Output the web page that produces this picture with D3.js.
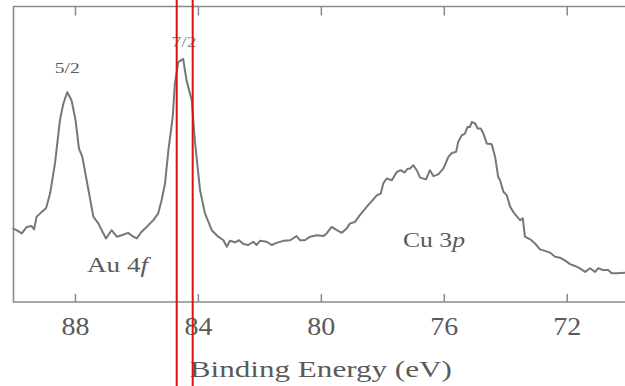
<!DOCTYPE html>
<html>
<head>
<meta charset="utf-8">
<script src="https://cdn.jsdelivr.net/npm/d3@7"></script>
<style>
  body { margin: 0; background: #fff; }
  svg { display: block; }
  .axis text { font-family: "Liberation Serif", serif; fill: #5a5a5a; }
</style>
</head>
<body>
<div id="chart"></div>
<script>
// binding energy (eV)
var energy = [90.03, 89.90, 89.73, 89.57, 89.41, 89.33, 89.25, 89.08, 88.94, 88.81,
  88.65, 88.49, 88.38, 88.25, 88.11, 87.98, 87.87, 87.76, 87.62, 87.40,
  87.24, 87.13, 86.99, 86.81, 86.64, 86.48, 86.27, 86.10, 85.99, 85.83,
  85.67, 85.45, 85.29, 85.18, 85.07, 84.96, 84.82, 84.75, 84.64, 84.48,
  84.37, 84.20, 84.10, 83.93, 83.77, 83.55, 83.34, 83.17, 83.06, 82.96,
  82.79, 82.66, 82.52, 82.36, 82.20, 82.09, 81.98, 81.76, 81.60, 81.44,
  81.22, 81.00, 80.79, 80.68, 80.52, 80.35, 80.13, 79.92, 79.81, 79.65,
  79.48, 79.32, 79.16, 79.05, 78.89, 78.73, 78.51, 78.18, 78.05, 77.97,
  77.86, 77.69, 77.53, 77.40, 77.28, 77.19, 77.10, 76.99, 76.88, 76.77,
  76.58, 76.45, 76.34, 76.18, 76.01, 75.85, 75.74, 75.60, 75.53, 75.42,
  75.31, 75.23, 75.15, 75.09, 74.98, 74.90, 74.80, 74.71, 74.60, 74.44,
  74.33, 74.23, 74.17, 74.06, 73.95, 73.84, 73.74, 73.61, 73.52, 73.43,
  73.36, 73.19, 73.03, 72.87, 72.71, 72.54, 72.38, 72.22, 72.05, 71.89,
  71.73, 71.57, 71.40, 71.24, 71.08, 70.97, 70.81, 70.65, 70.54, 70.37, 70.10];

// intensity (arbitrary units, 0-100 = frame bottom to top)
var intensity = [24.9, 24.3, 23.2, 25.4, 25.7, 24.6, 28.8, 30.5, 31.7, 36.7,
  46.9, 61.5, 67.1, 71.0, 68.2, 61.5, 51.9, 49.1, 41.2, 28.8,
  26.6, 24.3, 21.5, 24.3, 22.1, 22.6, 23.4, 22.1, 21.5, 23.8,
  25.4, 27.7, 30.0, 34.5, 40.1, 51.4, 62.6, 73.9, 81.2, 82.3,
  75.0, 68.2, 54.7, 37.8, 30.0, 24.3, 22.1, 20.9, 18.7, 20.7,
  20.2, 20.9, 19.6, 19.3, 20.4, 19.3, 20.7, 20.4, 19.3, 20.0,
  20.7, 20.9, 22.3, 20.9, 20.9, 22.1, 22.6, 22.3, 23.2, 25.4,
  24.3, 23.4, 24.9, 26.6, 27.1, 29.4, 32.2, 36.1, 36.7, 40.1,
  41.8, 41.2, 44.0, 44.6, 43.8, 45.0, 45.2, 46.3, 44.6, 42.1,
  41.5, 44.6, 42.6, 43.2, 45.2, 49.1, 50.4, 50.8, 54.2, 56.4,
  57.0, 59.2, 59.2, 60.9, 60.4, 58.7, 58.7, 57.0, 53.6, 53.4,
  49.1, 42.3, 41.2, 37.3, 36.1, 32.2, 30.5, 28.8, 27.7, 28.3,
  22.1, 21.2, 19.8, 17.8, 17.3, 16.7, 15.3, 15.0, 14.0, 12.8,
  12.2, 11.4, 10.2, 11.4, 10.2, 11.4, 10.8, 10.8, 9.7, 9.7, 9.9];

var xTicks = [88, 84, 80, 76, 72];
// red marker lines drawn over the scan
var markerEnergy = [84.69, 84.17];

var W = 625, H = 386;

var x = d3.scaleLinear().domain([90, 70]).range([13.5, 628.2]);
var y = d3.scaleLinear().domain([0, 100]).range([302, 6.5]);

var svg = d3.select('#chart').append('svg')
  .attr('width', W)
  .attr('height', H);

// frame: left, top and bottom (right edge is off the page)
var frame = svg.append('g').attr('stroke', '#8a8a8a').attr('stroke-width', 1.6).attr('fill', 'none');
frame.append('path').attr('d', 'M' + W + ',' + y(100) + 'H' + x(90) + 'V' + y(0) + 'H' + W);

// bottom axis, ticks pointing up
var xAxis = d3.axisBottom(x)
  .tickValues(xTicks)
  .tickFormat(d3.format('d'))
  .tickSizeInner(-8)
  .tickSizeOuter(0)
  .tickPadding(15);

var gx = svg.append('g')
  .attr('class', 'axis')
  .attr('transform', 'translate(0,' + y(0) + ')')
  .call(xAxis);
gx.select('.domain').remove();
gx.selectAll('.tick line').attr('stroke', '#8a8a8a').attr('stroke-width', 1.5);
gx.selectAll('.tick text')
  .attr('font-size', 25)
  .attr('textLength', 28)
  .attr('lengthAdjust', 'spacingAndGlyphs');

// top ticks pointing down
var gTop = svg.append('g')
  .attr('class', 'axis')
  .attr('transform', 'translate(0,' + y(100) + ')')
  .call(d3.axisTop(x).tickValues(xTicks).tickSizeInner(-9).tickSizeOuter(0).tickFormat(''));
gTop.select('.domain').remove();
gTop.selectAll('.tick line').attr('stroke', '#8a8a8a').attr('stroke-width', 1.5);

// spectrum
var pts = energy.map(function(e, i) { return [e, intensity[i]]; });
var line = d3.line()
  .x(function(d) { return x(d[0]); })
  .y(function(d) { return y(d[1]); });

svg.append('path')
  .datum(pts)
  .attr('fill', 'none')
  .attr('stroke', '#777')
  .attr('stroke-width', 2)
  .attr('stroke-linejoin', 'round')
  .attr('d', line);

// labels
var serif = '"Liberation Serif", serif';

svg.append('text')
  .attr('x', x(88.25)).attr('y', 73)
  .attr('text-anchor', 'middle')
  .attr('font-family', serif).attr('font-size', 15).attr('fill', '#5a5a5a')
  .attr('textLength', 25).attr('lengthAdjust', 'spacingAndGlyphs')
  .text('5/2');

svg.append('text')
  .attr('x', x(84.45)).attr('y', 46.5)
  .attr('text-anchor', 'middle')
  .attr('font-family', serif).attr('font-size', 15).attr('fill', '#8a8a8a')
  .attr('textLength', 25).attr('lengthAdjust', 'spacingAndGlyphs')
  .text('7/2');

var au = svg.append('text')
  .attr('x', 87).attr('y', 272)
  .attr('font-family', serif).attr('font-size', 20).attr('fill', '#5a5a5a')
  .attr('textLength', 61).attr('lengthAdjust', 'spacingAndGlyphs');
au.append('tspan').text('Au 4');
au.append('tspan').attr('font-style', 'italic').text('f');

var cu = svg.append('text')
  .attr('x', 403).attr('y', 247)
  .attr('font-family', serif).attr('font-size', 20).attr('fill', '#5a5a5a')
  .attr('textLength', 62).attr('lengthAdjust', 'spacingAndGlyphs');
cu.append('tspan').text('Cu 3');
cu.append('tspan').attr('font-style', 'italic').text('p');

svg.append('text')
  .attr('x', x(80)).attr('y', 377)
  .attr('text-anchor', 'middle')
  .attr('font-family', serif).attr('font-size', 24).attr('fill', '#5a5a5a')
  .attr('textLength', 262).attr('lengthAdjust', 'spacingAndGlyphs')
  .text('Binding Energy (eV)');

// red marker lines
svg.selectAll('.marker')
  .data(markerEnergy)
  .enter().append('line')
  .attr('class', 'marker')
  .attr('x1', function(d) { return x(d); })
  .attr('x2', function(d) { return x(d); })
  .attr('y1', 0)
  .attr('y2', H)
  .attr('stroke', '#e01010')
  .attr('stroke-width', 2);
</script>
</body>
</html>
